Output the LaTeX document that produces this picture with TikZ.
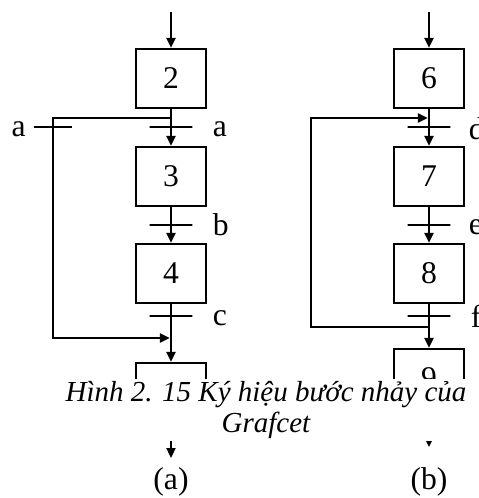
\documentclass[tikz,border=0pt]{standalone}
\usepackage{fontspec}
\setmainfont{Liberation Serif}
\usetikzlibrary{arrows.meta,positioning,calc}
\tikzset{
  stepbox/.style={rectangle,draw,line width=1.3pt,minimum width=1.4cm,
    minimum height=1.18cm,inner sep=0pt},
  trans/.style={rectangle,draw,line width=1.3pt,minimum width=0.86cm,
    minimum height=0pt,inner sep=0pt,outer sep=0pt},
  transS/.style={trans,minimum width=0.76cm},
  link/.style={line width=1.3pt},
  arrow/.style={-{Triangle[length=2mm,width=1.8mm]},line width=1.3pt},
  cond/.style={inner sep=0pt,anchor=west},
  caption/.style={fill=white,font=\fontsize{16.5}{17.6}\selectfont\itshape,
    align=center,minimum width=9.56cm,minimum height=1.24cm,inner sep=0pt}
}

\begin{document}
\begin{tikzpicture}[x=0.02cm,y=-0.02cm,font=\fontsize{18}{21}\selectfont]
  \useasboundingbox (0,0) rectangle (478,498);
  \node[stepbox] (s2) at (171,78.5) {2};
  \node[stepbox] (s3) at (171,176.5) {3};
  \node[stepbox] (s4) at (171,273.5) {4};
  \node[stepbox] (s5) at (171,392.5) {};
  \node[stepbox] (s6) at (429,78.5) {6};
  \node[stepbox] (s7) at (429,176.5) {7};
  \node[stepbox] (s8) at (429,273.5) {8};
  \node[stepbox] (s9) at (429,378.5) {9};
  \node[trans] (tA) at (171,127) {};
  \node[trans] (tB) at (171,225) {};
  \node[trans] (tC) at (171,316) {};
  \node[transS] (tA2) at (53,127) {};
  \node[trans] (tD) at (429,127) {};
  \node[trans] (tE) at (429,225) {};
  \node[trans] (tF) at (429,316) {};
  \node[cond] (cA) at ($(tA.east)+(20,2)$) {a};
  \node[cond] (cB) at ($(tB.east)+(20,0)$) {b};
  \node[cond] (cC) at ($(tC.east)+(20,2)$) {c};
  \node[cond,anchor=east] (cA2) at ($(tA2.west)+(-8,2)$) {a};
  \node[cond] (cD) at ($(tD.east)+(18,2)$) {d};
  \node[cond] (cE) at ($(tE.east)+(18,2)$) {e};
  \node[cond] (cF) at ($(tF.east)+(20,0)$) {f};
  \coordinate (in2) at (171,12);
  \coordinate (in6) at (429,12);
  \coordinate (out5) at (171,458);
  \coordinate (out9) at (429,447);
  \coordinate (jA) at (171,118);
  \coordinate (kA) at (53,118);
  \coordinate (kC) at (53,338);
  \coordinate (jC) at (171,338);
  \coordinate (jF) at (429,327);
  \coordinate (kF) at (311,327);
  \coordinate (kD) at (311,118);
  \coordinate (jD) at (429,118);
  \draw[arrow] (in2) -- (s2);
  \draw[arrow] (s2) -- (s3);
  \draw[arrow] (s3) -- (s4);
  \draw[arrow] (s4) -- (s5);
  \draw[arrow] (s5) -- (out5);
  \draw[arrow] (in6) -- (s6);
  \draw[arrow] (s6) -- (s7);
  \draw[arrow] (s7) -- (s8);
  \draw[arrow] (s8) -- (s9);
  \draw[arrow] (s9) -- (out9);
  \draw[arrow,shorten >=0.6pt] (jA) -- (kA) -- (kC) -- (jC);
  \draw[arrow,shorten >=0.6pt] (jF) -- (kF) -- (kD) -- (jD);
  \node[caption] (cap) at (266,410)
    {Hình 2. 15 Ký hiệu bước nhảy của\\Grafcet};
  \node (la) at (171,482) {(a)};
  \node (lb) at (429,482) {(b)};
\end{tikzpicture}
\end{document}
